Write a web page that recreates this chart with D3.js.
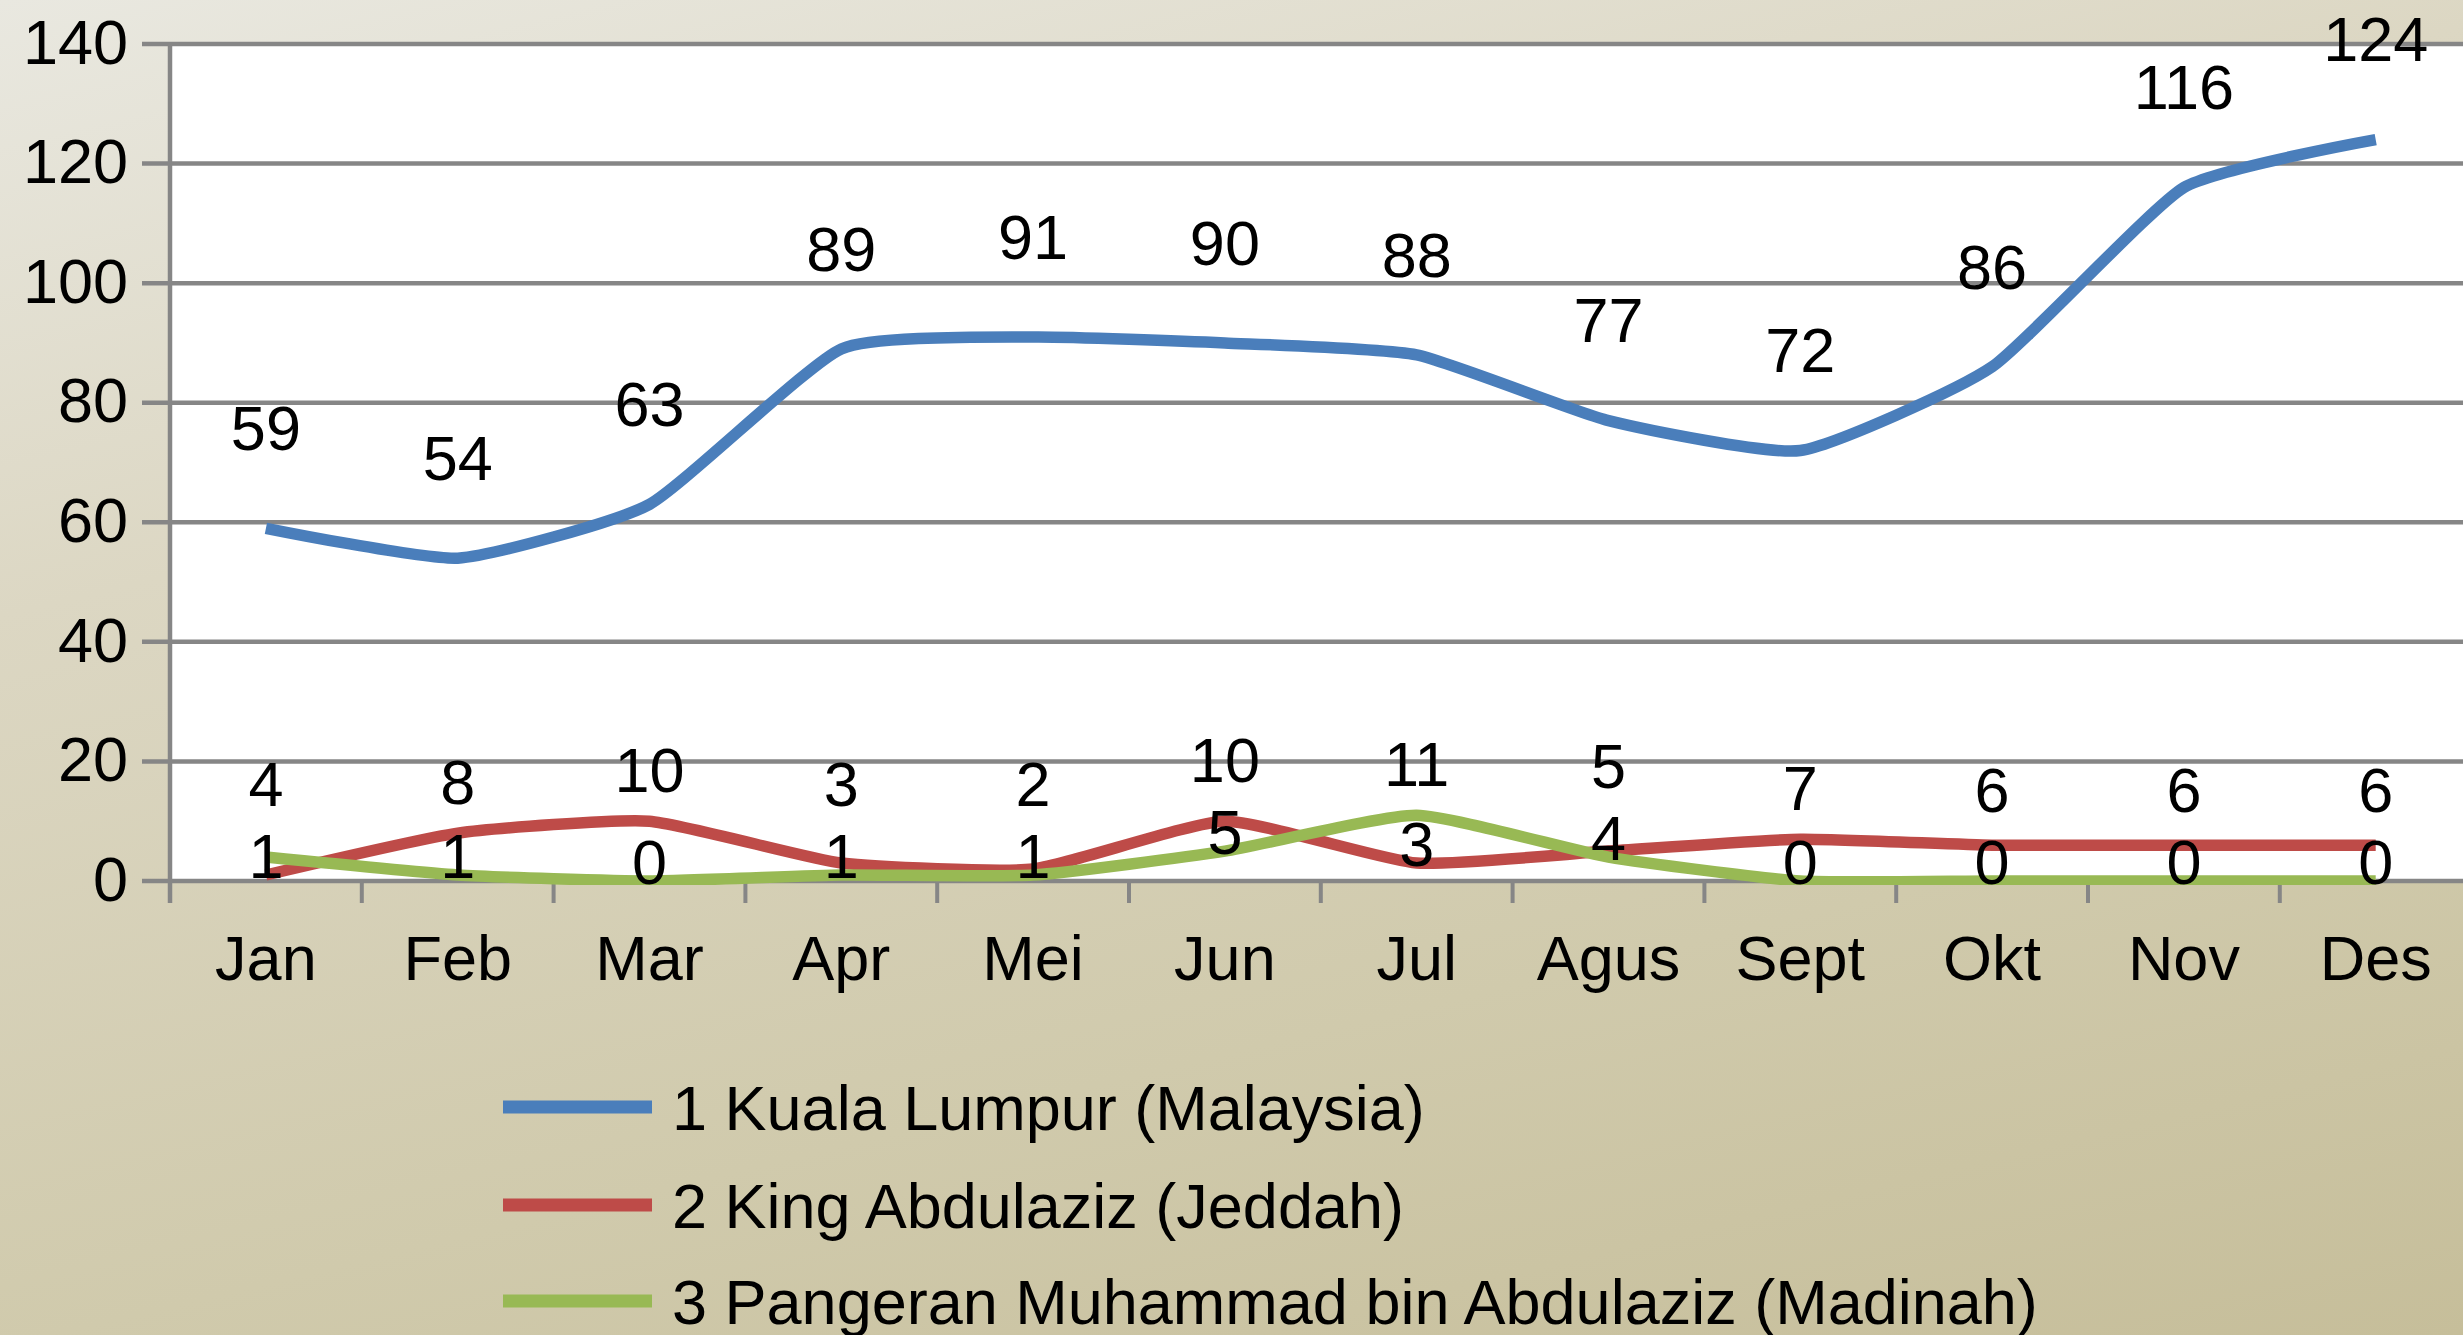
<!DOCTYPE html>
<html>
<head>
<meta charset="utf-8">
<script src="https://cdn.jsdelivr.net/npm/d3@7"></script>
<style>
  html, body { margin: 0; padding: 0; background: #fff; }
  svg { display: block; }
  text { font-family: "Liberation Sans", Arial, sans-serif; fill: #000; }
</style>
</head>
<body>
<svg id="chart" width="2463" height="1335"></svg>
<script>
const months = ["Jan","Feb","Mar","Apr","Mei","Jun","Jul","Agus","Sept","Okt","Nov","Des"];
const kualaLumpur = [59,54,63,89,91,90,88,77,72,86,116,124];
const kingAbdulaziz = [1,8,10,3,2,10,3,5,7,6,6,6];
const pangeranMuhammad = [4,1,0,1,1,5,11,4,0,0,0,0];
const seriesNames = ["1 Kuala Lumpur (Malaysia)","2 King Abdulaziz (Jeddah)","3 Pangeran Muhammad bin Abdulaziz (Madinah)"];
const yTicks = [0,20,40,60,80,100,120,140];

(function () {
const W = 2463, H = 1335;
const colors = ["#4A7EBB", "#BE4B48", "#98B954"];
const FS = 63;

const svg = d3.select("#chart");
const defs = svg.append("defs");
const grad = defs.append("linearGradient").attr("id","bg")
  .attr("gradientUnits","userSpaceOnUse")
  .attr("x1",0).attr("y1",0).attr("x2",436).attr("y2",1820);
grad.append("stop").attr("offset","0").attr("stop-color","#E9E8E0");
grad.append("stop").attr("offset","0.32").attr("stop-color","#DCD7C3");
grad.append("stop").attr("offset","0.7").attr("stop-color","#D0CAAC");
grad.append("stop").attr("offset","1").attr("stop-color","#C6BE9A");
svg.append("rect").attr("width",W).attr("height",H).attr("fill","url(#bg)");

const pLeft = 170, pTop = 44, pBottom = 881, bandW = 191.8;
const x = d3.scaleBand().domain(months).range([pLeft, pLeft + bandW*months.length]).padding(0);
const y = d3.scaleLinear().domain([0,140]).range([pBottom, pTop]);
const cx = m => x(m) + x.bandwidth()/2;

svg.append("rect").attr("x", pLeft).attr("y", pTop).attr("width", W - pLeft).attr("height", pBottom - pTop).attr("fill","#fff");

const gridColor = "#868686";
svg.append("g").selectAll("line").data(yTicks).join("line")
  .attr("x1", pLeft - 28).attr("x2", W)
  .attr("y1", d => y(d)).attr("y2", d => y(d))
  .attr("stroke", gridColor).attr("stroke-width", 4.5);
svg.append("line").attr("x1", pLeft).attr("x2", pLeft).attr("y1", pTop - 2).attr("y2", pBottom + 22)
  .attr("stroke", gridColor).attr("stroke-width", 4.5);
const boundaries = months.map(m => x(m)).concat([x(months[months.length-1]) + x.bandwidth()]);
svg.append("g").selectAll("line").data(boundaries.slice(1)).join("line")
  .attr("x1", d => d).attr("x2", d => d).attr("y1", pBottom).attr("y2", pBottom + 22)
  .attr("stroke", gridColor).attr("stroke-width", 4);

svg.append("g").selectAll("text").data(yTicks).join("text")
  .attr("x", pLeft - 42).attr("y", d => y(d) - 3).attr("dy", "0.36em")
  .attr("text-anchor","end").attr("font-size", FS).text(d => d);
svg.append("g").selectAll("text").data(months).join("text")
  .attr("x", d => cx(d)).attr("y", 980)
  .attr("text-anchor","middle").attr("font-size", FS).text(d => d);

const allSeries = [kualaLumpur, kingAbdulaziz, pangeranMuhammad];
const line = d3.line().x((d,i) => cx(months[i])).y(d => y(d)).curve(d3.curveCardinal.tension(0.5));
const clip = defs.append("clipPath").attr("id","plotclip");
clip.append("rect").attr("x", pLeft).attr("y", 0).attr("width", W-pLeft).attr("height", pBottom + 4);
const lg = svg.append("g").attr("clip-path","url(#plotclip)");
allSeries.forEach((s, k) => {
  lg.append("path").datum(s).attr("d", line).attr("fill","none")
    .attr("stroke", colors[k]).attr("stroke-width", 11.5)
    .attr("stroke-linejoin","round").attr("stroke-linecap","butt");
});

const labels = svg.append("g").attr("font-size", FS).attr("text-anchor","middle");
labels.selectAll("text.kl").data(kualaLumpur).join("text").attr("class","kl")
  .attr("x", (d,i) => cx(months[i])).attr("y", d => y(d) - 101).attr("dy","0.36em").text(d => d);

const lowLabels = [];
months.forEach((m, i) => {
  const a = kingAbdulaziz[i], b = pangeranMuhammad[i];
  const hi = Math.max(a, b), lo = Math.min(a, b);
  const loY = y(lo) - 20;
  const hiY = Math.min(y(hi) - 52, loY - 72);
  lowLabels.push({x: cx(m), y: hiY, v: hi});
  lowLabels.push({x: cx(m), y: loY, v: lo});
});
labels.selectAll("text.low").data(lowLabels).join("text").attr("class","low")
  .attr("x", d => d.x).attr("y", d => d.y).attr("dy","0.36em").text(d => d.v);

const legendY = [1107, 1205, 1301];
const lgd = svg.append("g");
seriesNames.forEach((n, k) => {
  lgd.append("line").attr("x1", 503).attr("x2", 652).attr("y1", legendY[k]).attr("y2", legendY[k])
    .attr("stroke", colors[k]).attr("stroke-width", 13);
  lgd.append("text").attr("x", 672).attr("y", legendY[k]).attr("dy","0.36em")
    .attr("font-size", FS).text(n);
});
})();
</script>
</body>
</html>
